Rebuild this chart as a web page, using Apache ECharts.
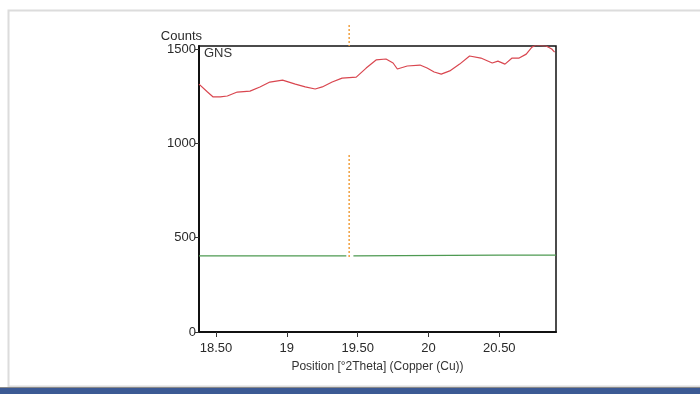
<!DOCTYPE html>
<html>
<head>
<meta charset="utf-8">
<script src="https://cdn.jsdelivr.net/npm/echarts@6/dist/echarts.min.js"></script>
<style>html,body{margin:0;padding:0;background:#fff}#c{width:700px;height:394px}</style>
</head>
<body>
<div id="c"></div>
<script>
// Red scan (GNS) – position [°2Theta], counts
const gnsX = [18.38,18.44,18.48,18.53,18.58,18.65,18.74,18.81,18.88,18.97,19.06,19.13,19.20,19.25,19.32,19.39,19.49,19.56,19.63,19.70,19.75,19.78,19.85,19.94,19.99,20.04,20.09,20.15,20.22,20.29,20.37,20.45,20.49,20.54,20.59,20.64,20.69,20.73,20.76,20.83,20.87,20.89];
const gnsY = [1314,1272,1246,1246,1251,1272,1277,1299,1325,1335,1314,1299,1288,1299,1325,1346,1351,1399,1442,1447,1426,1394,1410,1415,1399,1378,1367,1384,1420,1463,1452,1426,1436,1420,1452,1452,1473,1510,1521,1516,1500,1484];
// Green baseline
const baseX = [18.38,19.42,null,19.47,20.50,20.90];
const baseY = [403,403,null,403,407,407];
// Orange dotted reference position
const refX = 19.44;
const refY = [1627,1516,null,938,392];
// Tick labels
const xTicks = [18.5,19,19.5,20,20.5];
const xTickLabels = ['18.50','19','19.50','20','20.50'];
const yTicks = [0,500,1000,1500];

const chart = echarts.init(document.getElementById('c'));
const font = 'Liberation Sans, Arial, sans-serif';
chart.setOption({
  animation:false,
  backgroundColor:'#fff',
  graphic:[
    {type:'rect', shape:{x:8.5,y:10.5,width:720,height:376}, style:{fill:'none',stroke:'#dcdcdc',lineWidth:2}, silent:true, z:-10},
    {type:'rect', shape:{x:0,y:387,width:700,height:1}, style:{fill:'#8a8a8a'}, silent:true},
    {type:'rect', shape:{x:0,y:388,width:700,height:6}, style:{fill:'#3c5a94'}, silent:true},
    {type:'text', left:204, top:47, style:{text:'GNS', font:'13px '+font, fill:'#333'}}
  ],
  grid:{left:199, right:144, top:46, bottom:62, show:true, borderColor:'#111', borderWidth:1.5, backgroundColor:'transparent'},
  xAxis:{
    type:'value', min:18.38, max:20.9,
    name:'Position [°2Theta] (Copper (Cu))', nameLocation:'middle', nameGap:29,
    nameTextStyle:{color:'#333', fontSize:12, fontFamily:font},
    axisLine:{show:true, onZero:false, lineStyle:{color:'#111', width:2}},
    axisTick:{show:true, length:5, lineStyle:{color:'#333'}, customValues:xTicks},
    axisLabel:{color:'#2a2a2a', fontSize:13, fontFamily:font, margin:10, customValues:xTicks,
      formatter:v=>{const i=xTicks.indexOf(v);return i>=0?xTickLabels[i]:'';}},
    splitLine:{show:false}
  },
  yAxis:{
    type:'value', min:0, max:1516,
    name:'Counts', nameLocation:'end', nameGap:-6,
    nameTextStyle:{color:'#2a2a2a', fontSize:13, fontFamily:font, align:'right', padding:[0,-3,0,0]},
    axisLine:{show:true, lineStyle:{color:'#111', width:2}},
    axisTick:{show:true, length:4, lineStyle:{color:'#333'}, customValues:yTicks},
    axisLabel:{color:'#2a2a2a', fontSize:13, fontFamily:font, margin:3, customValues:yTicks, formatter:v=>String(v)},
    splitLine:{show:false}
  },
  series:[
    {type:'line', name:'GNS', data:gnsX.map((x,i)=>[x,gnsY[i]]), showSymbol:false, smooth:false,
      lineStyle:{color:'#d9464f', width:1.2}, itemStyle:{color:'#d9464f'}},
    {type:'line', name:'Baseline', data:baseX.map((x,i)=>[x,baseY[i]]), showSymbol:false, connectNulls:false,
      lineStyle:{color:'#4e9a52', width:1.2}, itemStyle:{color:'#4e9a52'}},
    {type:'line', name:'Reference', data:refY.map(y=>[y===null?null:refX,y]), showSymbol:false, connectNulls:false, clip:false,
      lineStyle:{color:'#f0a040', width:1.5, type:[2,2]}, itemStyle:{color:'#f0a040'}}
  ]
});
</script>
</body>
</html>
